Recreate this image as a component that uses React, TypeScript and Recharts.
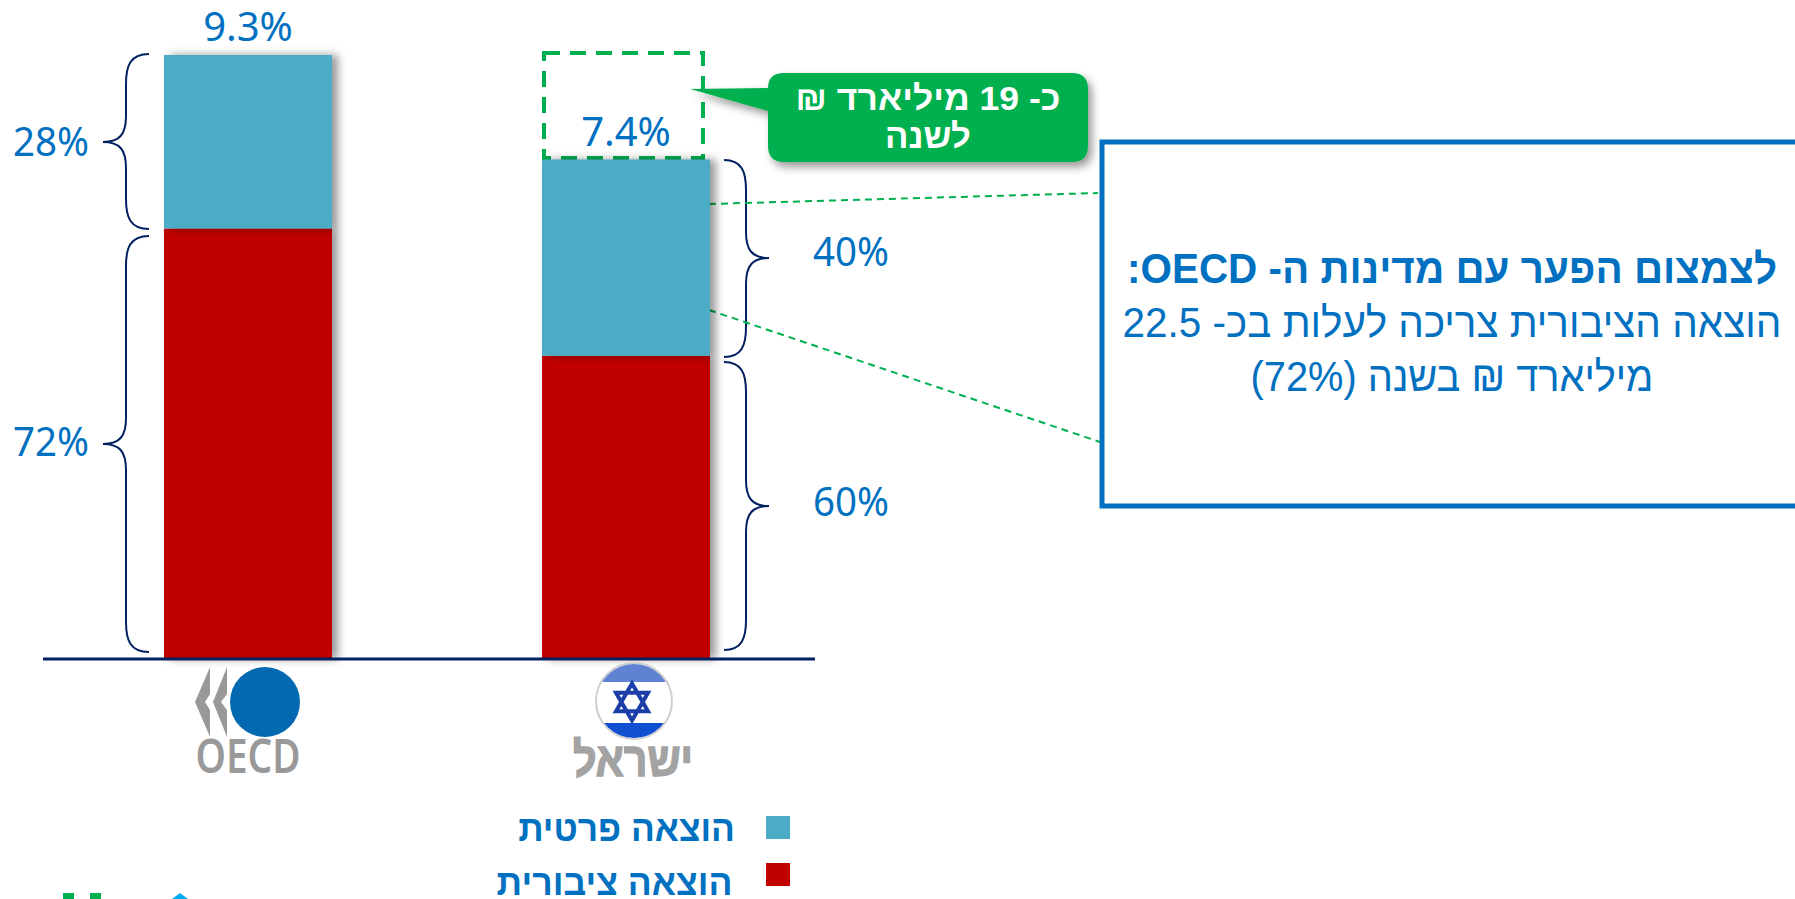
import React from 'react';
import { BarChart, Bar, XAxis, YAxis, LabelList, Legend, Customized, Rectangle } from 'recharts';

const countries = ['OECD', 'ישראל'];
const publicSpend = [6.63, 4.67];
const privateSpend = [2.67, 3.02];
const totalLabels = ['9.3%', '7.4%'];
const publicName = 'הוצאה ציבורית';
const privateName = 'הוצאה פרטית';

const data = countries.map((c, i) => ({
  country: c,
  public: publicSpend[i],
  private: privateSpend[i],
  total: totalLabels[i],
}));

const BLUE = '#0070C0';
const GREEN = '#00B050';
const NAVY = '#002060';
const FONT = '"Liberation Sans", sans-serif';
const NUMFONT = '"Noto Sans", sans-serif';

const ShadowBar = (p: any) => (
  <Rectangle {...p} style={{ filter: 'drop-shadow(6px 0px 4px rgba(0,0,0,0.4))' }} />
);

const measureCtx = typeof document !== 'undefined' ? document.createElement('canvas').getContext('2d') : null;

// Text squeezed horizontally to a width (its glyphs are tall and narrow).
const FitText = ({ x, y, width, size, weight = 400, family = FONT, fill, anchor = 'middle', rtl = true, extra, children }: any) => {
  let sx = 1;
  if (measureCtx) {
    measureCtx.font = `${weight} ${size}px ${family}`;
    const w = measureCtx.measureText(children).width;
    if (w > 0) sx = width / w;
  }
  return (
    <text
      transform={`translate(${x} ${y}) scale(${sx} 1)`}
      textAnchor={anchor}
      direction={rtl ? 'rtl' : 'ltr'}
      fontFamily={family}
      fontWeight={weight}
      fontSize={size}
      fill={fill}
      {...extra}
    >
      {children}
    </text>
  );
};

const chevron = (c: number, l: number, n: number, r: number) =>
  `M${c + r} 667 L${c + l} 702 L${c + r} 737 L${c + r} 710 L${c + n} 702 L${c + r} 694 Z`;

const CountryTick = ({ x, payload }: any) => {
  if (payload.value === 'OECD') {
    const c = x;
    return (
      <g>
        <path d={chevron(c, -53, -43, -38)} fill="#999999" />
        <path d={chevron(c, -35, -27, -21)} fill="#999999" />
        <circle cx={c + 17} cy={702} r={35} fill="#0369B1" />
        <FitText x={c} y={773} width={105} size={46} weight={600} family={NUMFONT} fill="#999999" rtl={false}>OECD</FitText>
      </g>
    );
  }
  const c = x + 6;
  const star = 16;
  return (
    <g>
      <defs>
        <clipPath id="flag-clip"><circle cx={c + 2} cy={701} r={37} /></clipPath>
      </defs>
      <circle cx={c + 2} cy={701} r={38} fill="#fff" stroke="#cfcfcf" strokeWidth={2} />
      <g clipPath="url(#flag-clip)">
        <rect x={c - 40} y={664} width={84} height={18} fill="#5F82D2" />
        <rect x={c - 40} y={723} width={84} height={16} fill="#0F4FD0" />
      </g>
      <path d={`M${c} ${702 - star * 1.15} L${c + star} ${702 + star * 0.58} L${c - star} ${702 + star * 0.58} Z M${c} ${702 + star * 1.15} L${c + star} ${702 - star * 0.58} L${c - star} ${702 - star * 0.58} Z`} fill="none" stroke="#1B3FA8" strokeWidth={4} />
      <FitText x={c + 1} y={776} width={120} size={48} weight={700} fill="#A3A3A3" extra={{ stroke: '#A3A3A3', strokeWidth: 1.5 }}>{payload.value}</FitText>
    </g>
  );
};

const braceLeft = (tip: number, spine: number, end: number, y0: number, ym: number, y1: number) =>
  `M${end} ${y0} C${spine + 4} ${y0} ${spine} ${y0 + 12} ${spine} ${y0 + 30} L${spine} ${ym - 26} C${spine} ${ym - 8} ${spine - 6} ${ym} ${tip} ${ym} C${spine - 6} ${ym} ${spine} ${ym + 8} ${spine} ${ym + 26} L${spine} ${y1 - 30} C${spine} ${y1 - 12} ${spine + 4} ${y1} ${end} ${y1}`;
const braceRight = (tip: number, spine: number, end: number, y0: number, ym: number, y1: number) =>
  `M${end} ${y0} C${spine - 4} ${y0} ${spine} ${y0 + 12} ${spine} ${y0 + 30} L${spine} ${ym - 26} C${spine} ${ym - 8} ${spine + 6} ${ym} ${tip} ${ym} C${spine + 6} ${ym} ${spine} ${ym + 8} ${spine} ${ym + 26} L${spine} ${y1 - 30} C${spine} ${y1 - 12} ${spine - 4} ${y1} ${end} ${y1}`;

const shareProps = { width: 76, size: 40, family: NUMFONT, fill: BLUE, rtl: false };

const Annotations = () => (
  <g>
    <defs>
      <filter id="soft" x="-10%" y="-10%" width="125%" height="130%">
        <feDropShadow dx="4" dy="5" stdDeviation="4" floodColor="#000" floodOpacity="0.4" />
      </filter>
    </defs>
    {[braceLeft(103, 126, 149, 54, 142, 229), braceLeft(103, 126, 149, 236, 444, 652), braceRight(769, 746, 724, 160, 258, 357), braceRight(769, 746, 724, 362, 506, 650)].map((d) => (
      <path key={d} d={d} fill="none" stroke={NAVY} strokeWidth={2} />
    ))}
    <FitText x={51} y={156} {...shareProps}>28%</FitText>
    <FitText x={51} y={456} {...shareProps}>72%</FitText>
    <FitText x={851} y={266} {...shareProps}>40%</FitText>
    <FitText x={851} y={516} {...shareProps}>60%</FitText>

    <rect x={544} y={53} width={159} height={105} fill="none" stroke={GREEN} strokeWidth={4} strokeDasharray="16 10" />
    <line x1={709} y1={204} x2={1098} y2={193} stroke={GREEN} strokeWidth={2} strokeDasharray="7 5" />
    <line x1={709} y1={310} x2={1100} y2={442} stroke={GREEN} strokeWidth={2} strokeDasharray="7 5" />

    <path d="M690 89 L768 88 Q768 73 784 73 L1072 73 Q1088 73 1088 89 L1088 146 Q1088 162 1072 162 L784 162 Q768 162 768 146 L768 111 Z" fill={GREEN} filter="url(#soft)" />
    <FitText x={928} y={110} width={265} size={34} weight={700} fill="#fff">כ- 19 מיליארד ₪</FitText>
    <FitText x={928} y={148} width={86} size={34} weight={700} fill="#fff">לשנה</FitText>

    <rect x={1102} y={142} width={720} height={364} fill="#fff" stroke={BLUE} strokeWidth={5} />
    <FitText x={1452} y={283} width={650} size={42} weight={700} fill={BLUE}>לצמצום הפער עם מדינות ה- OECD:</FitText>
    <FitText x={1452} y={337} width={659} size={42} fill={BLUE}>הוצאה הציבורית צריכה לעלות בכ- 22.5</FitText>
    <FitText x={1452} y={391} width={403} size={42} fill={BLUE}>מיליארד ₪ בשנה (72%)</FitText>

    <rect x={63} y={893} width={11} height={6} fill={GREEN} />
    <rect x={90} y={893} width={11} height={6} fill={GREEN} />
    <path d="M172 899 L180 893 L188 899 Z" fill="#00AEEF" />
  </g>
);

const legendWidths = [217, 236];
const legendBaselines = [25, 79];
const legendRight = [335, 332.5];

const LegendContent = ({ payload }: any) => {
  const rows = [...(payload || [])];
  return (
    <div style={{ width: 400, position: 'relative', height: 80 }}>
      {rows.map((r: any, i: number) => (
        <div key={r.value} style={{ position: 'absolute', left: 366, top: i * 47, width: 24, height: 23, background: r.color }} />
      ))}
      <svg width={400} height={83} style={{ position: 'absolute', left: 0, top: 0, overflow: 'visible' }}>
        {rows.map((r: any, i: number) => (
          <FitText key={r.value} x={legendRight[i]} y={legendBaselines[i]} width={legendWidths[i]} size={36} weight={700} fill={BLUE} anchor="start">{r.value}</FitText>
        ))}
      </svg>
    </div>
  );
};

export default function App() {
  return (
    <div style={{ position: 'absolute', left: 0, top: 0, width: 1795, height: 899, overflow: 'hidden' }}>
      <BarChart width={1795} height={899} data={data} margin={{ top: 55, right: 980, bottom: 159, left: 43 }} barCategoryGap={0}>
        <XAxis
          dataKey="country"
          padding={{ left: 16, right: 0 }}
          stroke={NAVY}
          axisLine={{ stroke: NAVY, strokeWidth: 3 }}
          tickLine={false}
          height={1}
          tick={<CountryTick />}
          interval={0}
        />
        <YAxis hide domain={[0, 9.3]} />
        <Bar dataKey="public" name={publicName} stackId="a" fill="#C00000" barSize={168} isAnimationActive={false} shape={ShadowBar} />
        <Bar dataKey="private" name={privateName} stackId="a" fill="#4BACC6" barSize={168} isAnimationActive={false} shape={ShadowBar}>
          <LabelList dataKey="total" position="top" offset={14} fontFamily={NUMFONT} fontSize={40} fill={BLUE} />
        </Bar>
        <Legend content={<LegendContent />} wrapperStyle={{ left: 400, top: 816, width: 400, bottom: 'auto' }} />
        <Customized component={Annotations} />
      </BarChart>
    </div>
  );
}
